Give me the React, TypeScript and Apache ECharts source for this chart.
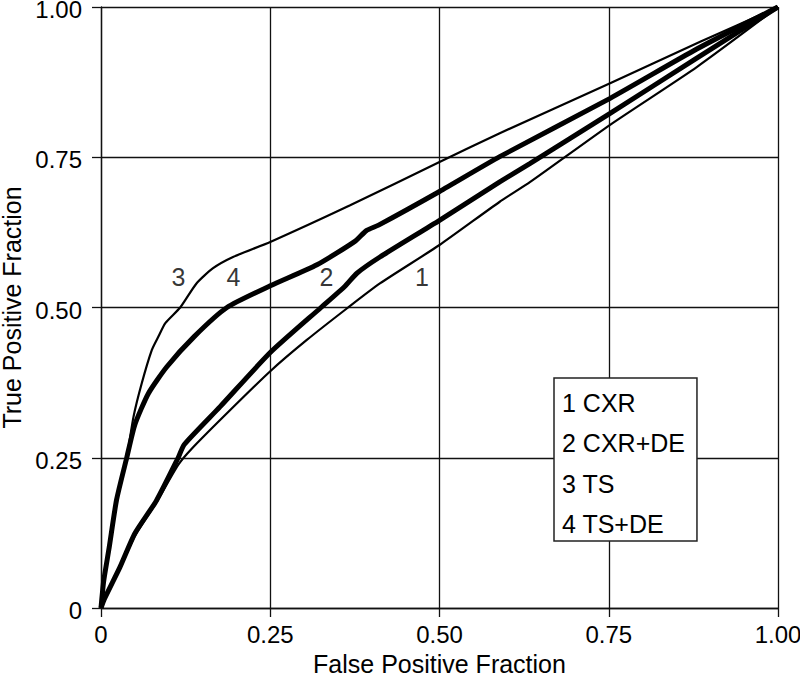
import React, { useEffect, useRef } from "react";
import * as echarts from "echarts";

const seriesNames = ["1 CXR", "2 CXR+DE", "3 TS", "4 TS+DE"];

const cxr: [number, number][] = [
  [0, 0], [0.005, 0.013], [0.028, 0.066], [0.05, 0.12], [0.082, 0.176], [0.114, 0.238],
  [0.134, 0.265], [0.186, 0.324], [0.25, 0.394], [0.304, 0.446], [0.365, 0.5],
  [0.412, 0.54], [0.5, 0.604], [0.589, 0.676], [0.634, 0.709], [0.752, 0.804],
  [0.88, 0.9], [1, 1],
];

const cxrDe: [number, number][] = [
  [0, 0], [0.005, 0.015], [0.028, 0.068], [0.05, 0.124], [0.082, 0.179], [0.114, 0.25],
  [0.123, 0.272], [0.176, 0.335], [0.25, 0.425], [0.325, 0.5], [0.36, 0.535],
  [0.378, 0.557], [0.412, 0.584], [0.5, 0.645], [0.589, 0.709], [0.634, 0.74],
  [0.752, 0.823], [0.88, 0.915], [1, 1],
];

const ts: [number, number][] = [
  [0, 0], [0.0035, 0.041], [0.011, 0.096], [0.022, 0.179], [0.038, 0.251], [0.048, 0.318],
  [0.06, 0.373], [0.075, 0.429], [0.085, 0.452], [0.095, 0.474], [0.117, 0.5],
  [0.141, 0.54], [0.165, 0.565], [0.195, 0.584], [0.25, 0.609], [0.368, 0.67],
  [0.5, 0.742], [0.589, 0.79], [0.752, 0.873], [0.885, 0.942], [1, 1],
];

const tsDe: [number, number][] = [
  [0, 0], [0.004, 0.045], [0.012, 0.1], [0.023, 0.18], [0.038, 0.25], [0.05, 0.305],
  [0.07, 0.357], [0.097, 0.401], [0.138, 0.452], [0.186, 0.5], [0.25, 0.536],
  [0.319, 0.571], [0.375, 0.61], [0.392, 0.628], [0.41, 0.637], [0.5, 0.693],
  [0.589, 0.751], [0.752, 0.848], [0.88, 0.93], [1, 1],
];

const curveLabels = ["3", "4", "2", "1"];
const curveLabelPos: [number, number][] = [
  [0.1145, 0.5505], [0.1957, 0.5505], [0.3331, 0.5505], [0.4742, 0.5505],
];

const tickValues = [0, 0.25, 0.5, 0.75, 1];
const tickLabels = ["0", "0.25", "0.50", "0.75", "1.00"];

const FONT = "'Liberation Sans', Arial, Helvetica, sans-serif";

export default function App() {
  const ref = useRef<HTMLDivElement>(null);
  useEffect(() => {
    if (!ref.current) return;
    const chart = echarts.init(ref.current, null, { renderer: "svg" });
    const fmt = (v: number) => {
      const i = tickValues.findIndex((t) => Math.abs(t - v) < 1e-9);
      return i >= 0 ? tickLabels[i] : "";
    };
    const axisCommon = {
      type: "value" as const,
      min: 0,
      max: 1,
      interval: 0.25,
      nameLocation: "middle" as const,
      nameTextStyle: { fontSize: 25, color: "#000", fontFamily: FONT },
      axisLine: { show: true, lineStyle: { color: "#111", width: 1.3 } },
      axisTick: { show: true, inside: false, length: 9, lineStyle: { color: "#111", width: 1.3 } },
      splitLine: { show: true, lineStyle: { color: "#111", width: 1.3 } },
      axisLabel: { formatter: fmt, fontSize: 24, color: "#000", fontFamily: FONT },
    };
    const lineSeries = (name: string, data: [number, number][], width: number) => ({
      name,
      type: "line" as const,
      data,
      showSymbol: false,
      symbol: "none",
      smooth: 0.2,
      lineStyle: { color: "#000", width },
      itemStyle: { color: "#000" },
      z: 3,
    });
    chart.setOption({
      animation: false,
      backgroundColor: "#fff",
      grid: {
        left: 101, top: 7, right: 22, bottom: 68,
        containLabel: false,
        outerBoundsMode: "none",
      },
      xAxis: {
        ...axisCommon,
        name: "False Positive Fraction",
        nameGap: 43,
        axisLabel: { ...axisCommon.axisLabel, margin: 14 },
      },
      yAxis: {
        ...axisCommon,
        name: "True Positive Fraction",
        nameGap: 68,
        nameTextStyle: { ...axisCommon.nameTextStyle, lineHeight: 25 },
        axisLabel: {
          ...axisCommon.axisLabel,
          margin: 19,
          verticalAlign: "top",
          lineHeight: 5,
        },
      },
      legend: {
        orient: "vertical",
        left: 554,
        top: 378,
        data: seriesNames,
        icon: "rect",
        itemWidth: 0,
        itemHeight: 28,
        itemGap: 12.5,
        padding: [10.5, 12, 3, 3],
        borderColor: "#222",
        borderWidth: 1.5,
        backgroundColor: "#fff",
        selectedMode: false,
        itemStyle: { opacity: 0 },
        lineStyle: { opacity: 0, width: 0 },
        textStyle: { fontSize: 25, color: "#000", fontFamily: FONT, padding: [0, 0, 0, 0] },
      },
      series: [
        lineSeries(seriesNames[0], cxr, 2.2),
        lineSeries(seriesNames[1], cxrDe, 5),
        lineSeries(seriesNames[2], ts, 2.2),
        lineSeries(seriesNames[3], tsDe, 5),
        {
          name: "curve-labels",
          type: "scatter",
          symbolSize: 0,
          data: curveLabelPos.map((p, i) => ({ value: p, name: curveLabels[i] })),
          label: {
            show: true,
            position: "inside",
            formatter: (p: any) => p.name,
            fontSize: 25,
            color: "#000",
            fontFamily: FONT,
          },
          silent: true,
          z: 4,
        },
      ],
    });
    return () => chart.dispose();
  }, []);
  return (
    <div
      ref={ref}
      style={{ position: "fixed", left: 0, top: 0, width: 800, height: 676, background: "#fff" }}
    />
  );
}
